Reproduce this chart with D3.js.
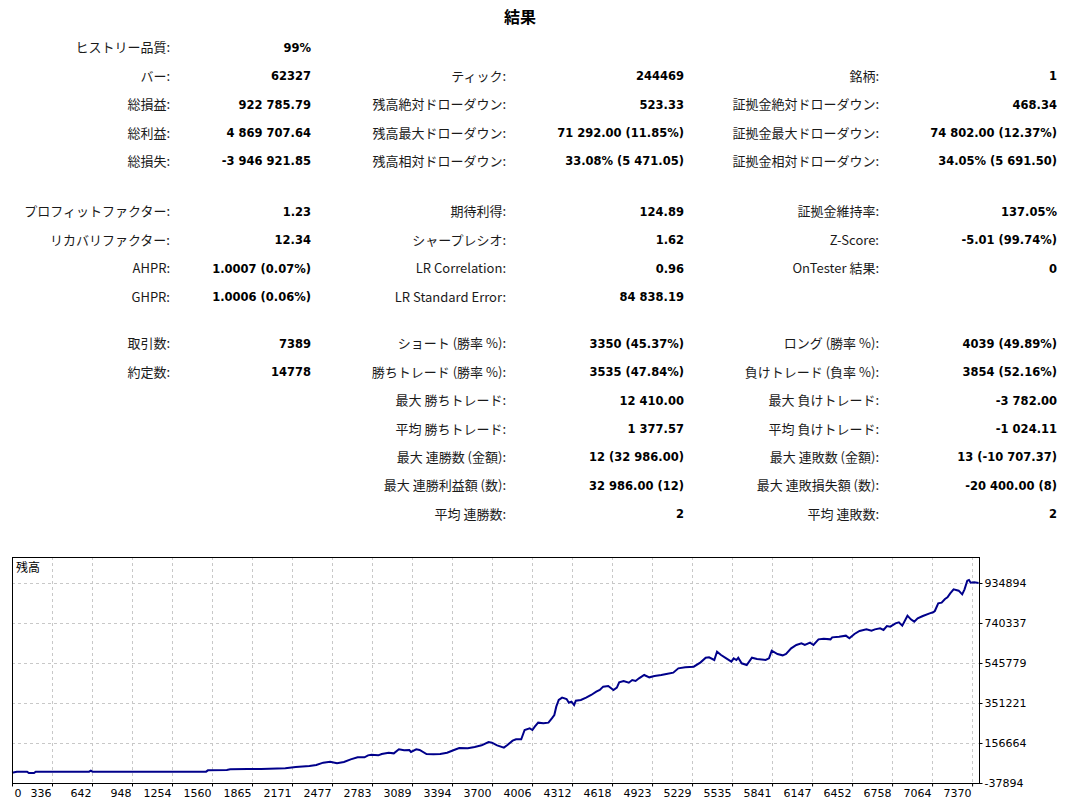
<!DOCTYPE html>
<html>
<head>
<meta charset="utf-8">
<script src="https://cdn.jsdelivr.net/npm/d3@7"></script>
<style>
  body { margin: 0; background: #fff; }
  .lbl { font-family: "Noto Sans CJK JP", "DejaVu Sans", sans-serif; font-size: 13px; fill: #1a1a1a; }
  .val { font-family: "DejaVu Sans", "Noto Sans CJK JP", sans-serif; font-size: 11.5px; font-weight: bold; fill: #000; }
  .axis text { font-family: "DejaVu Sans", sans-serif; font-size: 11px; fill: #000; }
</style>
</head>
<body>
<svg id="report" width="1066" height="805"></svg>
<script>
// Strategy tester report : 結果 table + balance curve

var reportTitle = "結果";

// column 1 (rows 0..10)
var col1Labels = ["ヒストリー品質:", "バー:", "総損益:", "総利益:", "総損失:", "プロフィットファクター:", "リカバリファクター:", "AHPR:", "GHPR:", "取引数:", "約定数:"];
var col1Values = ["99%", "62327", "922 785.79", "4 869 707.64", "-3 946 921.85", "1.23", "12.34", "1.0007 (0.07%)", "1.0006 (0.06%)", "7389", "14778"];
var col1Rows = [0, 1, 2, 3, 4, 5, 6, 7, 8, 9, 10];

// column 2
var col2Labels = ["ティック:", "残高絶対ドローダウン:", "残高最大ドローダウン:", "残高相対ドローダウン:", "期待利得:", "シャープレシオ:", "LR Correlation:", "LR Standard Error:", "ショート (勝率 %):", "勝ちトレード (勝率 %):", "最大 勝ちトレード:", "平均 勝ちトレード:", "最大 連勝数 (金額):", "最大 連勝利益額 (数):", "平均 連勝数:"];
var col2Values = ["244469", "523.33", "71 292.00 (11.85%)", "33.08% (5 471.05)", "124.89", "1.62", "0.96", "84 838.19", "3350 (45.37%)", "3535 (47.84%)", "12 410.00", "1 377.57", "12 (32 986.00)", "32 986.00 (12)", "2"];
var col2Rows = [1, 2, 3, 4, 5, 6, 7, 8, 9, 10, 11, 12, 13, 14, 15];

// column 3
var col3Labels = ["銘柄:", "証拠金絶対ドローダウン:", "証拠金最大ドローダウン:", "証拠金相対ドローダウン:", "証拠金維持率:", "Z-Score:", "OnTester 結果:", "ロング (勝率 %):", "負けトレード (負率 %):", "最大 負けトレード:", "平均 負けトレード:", "最大 連敗数 (金額):", "最大 連敗損失額 (数):", "平均 連敗数:"];
var col3Values = ["1", "468.34", "74 802.00 (12.37%)", "34.05% (5 691.50)", "137.05%", "-5.01 (99.74%)", "0", "4039 (49.89%)", "3854 (52.16%)", "-3 782.00", "-1 024.11", "13 (-10 707.37)", "-20 400.00 (8)", "2"];
var col3Rows = [1, 2, 3, 4, 5, 6, 7, 9, 10, 11, 12, 13, 14, 15];

// balance chart
var chartLabel = "残高";
var xTickLabels = [0, 336, 642, 948, 1254, 1560, 1865, 2171, 2477, 2783, 3089, 3394, 3700, 4006, 4312, 4618, 4923, 5229, 5535, 5841, 6147, 6452, 6758, 7064, 7370];
var yTickLabels = [-37894, 156664, 351221, 545779, 740337, 934894];

var tradeIndex = [0, 37, 116, 129, 169, 182, 592, 605, 618, 1490, 1504, 1649, 1675, 1808, 1913, 2098, 2178, 2283, 2336, 2389,
    2442, 2495, 2548, 2600, 2653, 2706, 2733, 2759, 2812, 2838, 2891, 2931, 2970, 3010, 3050, 3063, 3103, 3129, 3182, 3235,
    3287, 3340, 3393, 3433, 3499, 3552, 3605, 3658, 3684, 3724, 3776, 3803, 3843, 3869, 3909, 3935, 3974, 3995, 4013, 4039,
    4079, 4118, 4144, 4163, 4178, 4197, 4223, 4257, 4275, 4294, 4315, 4328, 4367, 4407, 4446, 4485, 4512, 4538, 4577, 4617,
    4643, 4661, 4695, 4735, 4761, 4787, 4813, 4853, 4892, 4932, 4984, 5023, 5076, 5115, 5168, 5233, 5286, 5325, 5351, 5391,
    5412, 5443, 5483, 5522, 5540, 5561, 5575, 5601, 5640, 5680, 5719, 5785, 5811, 5832, 5876, 5916, 5942, 5981, 6021, 6060,
    6086, 6126, 6152, 6191, 6231, 6283, 6296, 6349, 6401, 6428, 6467, 6506, 6559, 6598, 6624, 6664, 6690, 6716, 6742, 6782,
    6808, 6834, 6874, 6900, 6926, 6952, 6992, 7044, 7071, 7084, 7110, 7136, 7162, 7181, 7202, 7228, 7267, 7294, 7312, 7333,
    7346, 7359, 7386, 7420];
var balance = [12100, 17200, 17200, 10700, 10700, 17200, 17200, 22100, 17200, 17200, 23700, 25300, 28600, 30200, 30200, 33400, 39900, 44800, 49700, 61000,
    65900, 57800, 64200, 77200, 86900, 86900, 96700, 99900, 96700, 103200, 109600, 106400, 125900, 121000, 122600, 112900, 125900, 122600, 103200, 101500,
    103200, 109600, 122600, 132300, 130700, 137200, 145300, 161500, 158300, 145300, 134000, 146900, 168000, 174500, 174500, 219900, 228000, 219900, 236100, 255600,
    252300, 255600, 276600, 292900, 333400, 365800, 377200, 370700, 352800, 357700, 341500, 362600, 365800, 377200, 390100, 406300, 414500, 430700, 433900, 414500,
    425800, 451700, 458200, 450100, 463100, 458200, 471200, 487400, 476100, 482500, 487400, 492300, 498800, 519800, 524700, 527900, 549000, 571700, 573300, 560400,
    600900, 584700, 568500, 552300, 568500, 560400, 571700, 544200, 536100, 571700, 565200, 560400, 568500, 605800, 589600, 583100, 589600, 617100, 633300, 641400,
    633300, 644700, 633300, 660900, 664100, 660900, 670600, 673900, 678700, 665800, 686800, 701400, 709500, 703000, 709500, 714400, 706300, 725700, 722500, 738700,
    743600, 727400, 776000, 758200, 746800, 763000, 774400, 787400, 792200, 798700, 836000, 839200, 857100, 865200, 884600, 904100, 897600, 879800, 904100, 946200,
    949500, 936500, 938100, 934894];

(function(d3) {

    var svg = d3.select("#report");

    // ---- stats table ----
    var rowY = function(r) {
        return 47.5 + r * 28.45 + (r >= 5 ? 22 : 0) + (r >= 9 ? 18 : 0);
    };

    var columns = [
        { labels: col1Labels, values: col1Values, rows: col1Rows, labelRight: 170, valueRight: 311 },
        { labels: col2Labels, values: col2Values, rows: col2Rows, labelRight: 506, valueRight: 684 },
        { labels: col3Labels, values: col3Values, rows: col3Rows, labelRight: 879, valueRight: 1057 }
    ];

    svg.append("text")
        .attr("x", 520)
        .attr("y", 17)
        .attr("dy", "0.36em")
        .attr("text-anchor", "middle")
        .style("font-family", "'Noto Sans CJK JP', sans-serif")
        .style("font-size", "16px")
        .style("font-weight", "bold")
        .text(reportTitle);

    columns.forEach(function(col) {
        var cells = col.labels.map(function(l, i) {
            return { label: l, value: col.values[i], row: col.rows[i] };
        });
        var g = svg.append("g").attr("class", "statColumn");

        g.selectAll("text.lbl")
            .data(cells)
            .enter()
            .append("text")
            .attr("class", "lbl")
            .attr("x", col.labelRight)
            .attr("y", function(d) { return rowY(d.row); })
            .attr("dy", "0.36em")
            .attr("text-anchor", "end")
            .text(function(d) { return d.label; });

        g.selectAll("text.val")
            .data(cells)
            .enter()
            .append("text")
            .attr("class", "val")
            .attr("x", col.valueRight)
            .attr("y", function(d) { return rowY(d.row); })
            .attr("dy", "0.36em")
            .attr("text-anchor", "end")
            .text(function(d) { return d.value; });
    });

    // ---- balance chart ----
    var box = { left: 12, right: 979, top: 557, bottom: 783 };

    var xTrade = d3.scaleLinear().domain([0, 7423]).range([box.left, box.right]);
    var xTick = d3.scaleLinear().domain([0, xTickLabels.length - 1]).range([box.left, xTrade(7370)]);
    var y = d3.scaleLinear()
        .domain([yTickLabels[0], yTickLabels[yTickLabels.length - 1]])
        .range([box.bottom, 583]);

    var chart = svg.append("g").attr("class", "balanceChart");

    chart.append("rect")
        .attr("x", box.left)
        .attr("y", box.top)
        .attr("width", box.right - box.left)
        .attr("height", box.bottom - box.top)
        .style("fill", "#fff");

    var grid = chart.append("g").attr("class", "grid")
        .style("stroke", "#c8c8c8")
        .style("stroke-dasharray", "3,3")
        .style("shape-rendering", "crispEdges");

    grid.selectAll("line.vx")
        .data(d3.range(1, xTickLabels.length))
        .enter()
        .append("line")
        .attr("x1", function(d) { return Math.round(xTick(d)) + 0.5; })
        .attr("x2", function(d) { return Math.round(xTick(d)) + 0.5; })
        .attr("y1", box.top)
        .attr("y2", box.bottom);

    grid.selectAll("line.hy")
        .data(yTickLabels.slice(1))
        .enter()
        .append("line")
        .attr("x1", box.left)
        .attr("x2", box.right)
        .attr("y1", function(d) { return Math.round(y(d)) + 0.5; })
        .attr("y2", function(d) { return Math.round(y(d)) + 0.5; });

    chart.append("text")
        .attr("x", 16)
        .attr("y", 568)
        .attr("dy", "0.36em")
        .style("font-family", "'Noto Sans CJK JP', sans-serif")
        .style("font-size", "12px")
        .text(chartLabel);

    var points = tradeIndex.map(function(t, i) { return [t, balance[i]]; });

    var balanceLine = d3.line()
        .x(function(d) { return xTrade(d[0]); })
        .y(function(d) { return y(d[1]); });

    chart.append("path")
        .datum(points)
        .attr("d", balanceLine)
        .style("fill", "none")
        .style("stroke", "#00008b")
        .style("stroke-width", 2)
        .style("stroke-linejoin", "miter");

    chart.append("rect")
        .attr("x", box.left + 0.5)
        .attr("y", box.top + 0.5)
        .attr("width", box.right - box.left)
        .attr("height", box.bottom - box.top)
        .style("fill", "none")
        .style("stroke", "#000")
        .style("shape-rendering", "crispEdges");

    var xAxis = d3.axisBottom(xTick)
        .tickValues(d3.range(xTickLabels.length))
        .tickFormat(function(i) { return xTickLabels[i]; })
        .tickSize(3)
        .tickPadding(3);

    var xg = chart.append("g")
        .attr("class", "axis")
        .attr("transform", "translate(0," + (box.bottom + 0.5) + ")")
        .call(xAxis);
    xg.select(".domain").remove();
    xg.selectAll("text")
        .attr("text-anchor", function(i) { return i === 0 ? "start" : "end"; })
        .attr("x", function(i) { return i === 0 ? 2 : -1; });

    var yAxis = d3.axisRight(y)
        .tickValues(yTickLabels)
        .tickFormat(function(v) { return String(v); })
        .tickSize(3)
        .tickPadding(2);

    var yg = chart.append("g")
        .attr("class", "axis")
        .attr("transform", "translate(" + (box.right + 0.5) + ",0)")
        .call(yAxis);
    yg.select(".domain").remove();

})(d3);
</script>
</body>
</html>
